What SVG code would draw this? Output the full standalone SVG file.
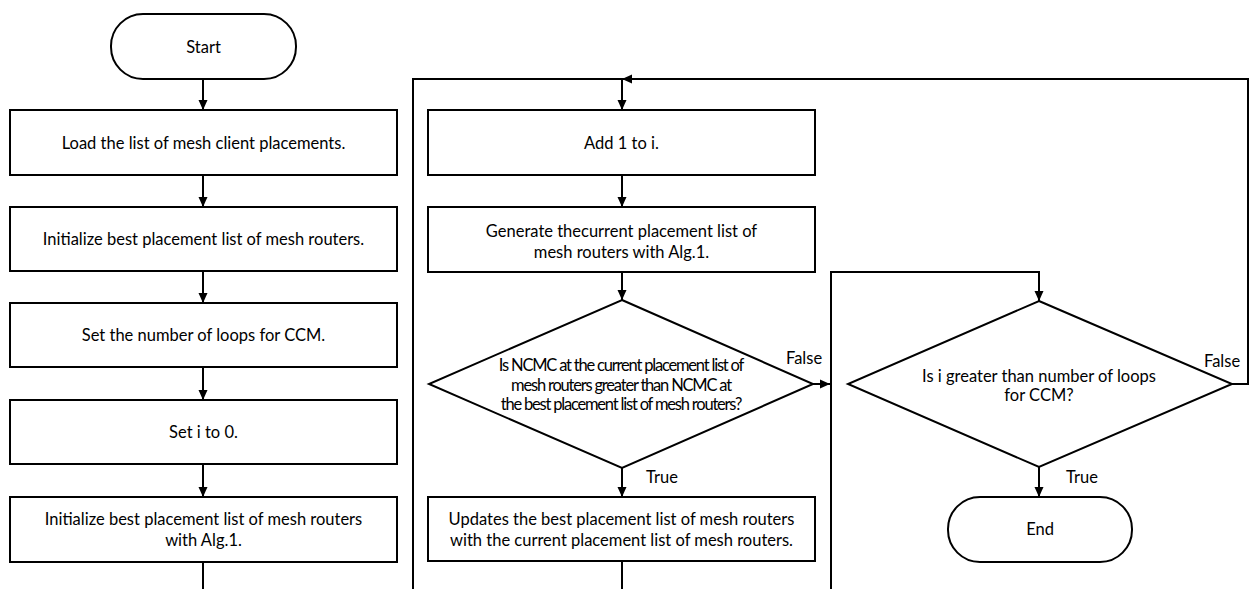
<svg xmlns="http://www.w3.org/2000/svg" width="1252" height="589" viewBox="0 0 1252 589">
<defs>
<marker id="ah" markerUnits="userSpaceOnUse" markerWidth="10" markerHeight="10" refX="10" refY="5" orient="auto">
<path d="M0,0.5 L10,5 L0,9.5 z" fill="#000"/>
</marker>
<style>
.n{fill:#fff;stroke:#000;stroke-width:2}
.t{font-family:Lato,"Noto Sans",sans-serif;font-size:16.5px;fill:#000;text-anchor:middle;dominant-baseline:central}
.c{fill:none;stroke:#000;stroke-width:2}
.a{marker-end:url(#ah)}
.l{font-family:Lato,"Noto Sans",sans-serif;font-size:16.5px;fill:#000;dominant-baseline:central}
</style>
</defs>
<rect width="1252" height="589" fill="#fff"/>
<g id="connectors">
<path class="c a" d="M203,79 V110"/>
<path class="c a" d="M203,175 V207"/>
<path class="c a" d="M203,271 V303"/>
<path class="c a" d="M203,367 V400"/>
<path class="c a" d="M203,464 V497"/>
<path class="c" d="M203,562 V589"/>
<path class="c" d="M413,589 V79 H622"/>
<path class="c a" d="M1232,384 H1248 V79 H622"/>
<path class="c a" d="M622,79 V110"/>
<path class="c a" d="M622,175 V207"/>
<path class="c a" d="M622,272 V300"/>
<path class="c a" d="M813,384 H830"/>
<path class="c a" d="M622,468 V497"/>
<path class="c" d="M622,561 V589"/>
<path class="c a" d="M831,589 V272 H1039 V301"/>
<path class="c a" d="M1039,467 V497"/>
<text class="l" x="786" y="358">False</text>
<text class="l" x="646" y="477">True</text>
<text class="l" x="1204" y="361">False</text>
<text class="l" x="1066" y="477">True</text>
</g>
<g id="start">
<rect class="n" x="111" y="14" width="185" height="65" rx="32"/>
<text class="t" x="203.5" y="47">Start</text>
</g>
<g id="load">
<rect class="n" x="10" y="110" width="387" height="65"/>
<text class="t" x="203.5" y="142.5">Load the list of mesh client placements.</text>
</g>
<g id="init1">
<rect class="n" x="10" y="207" width="387" height="64"/>
<text class="t" x="203.5" y="239">Initialize best placement list of mesh routers.</text>
</g>
<g id="setloops">
<rect class="n" x="10" y="303" width="387" height="64"/>
<text class="t" x="203.5" y="335">Set the number of loops for CCM.</text>
</g>
<g id="seti">
<rect class="n" x="10" y="400" width="387" height="64"/>
<text class="t" x="203.5" y="432">Set i to 0.</text>
</g>
<g id="init2">
<rect class="n" x="10" y="497" width="387" height="65"/>
<text class="t" x="203.5" y="519">Initialize best placement list of mesh routers</text>
<text class="t" x="203.5" y="540">with Alg.1.</text>
</g>
<g id="add">
<rect class="n" x="428" y="110" width="387" height="65"/>
<text class="t" x="621.5" y="142.5">Add 1 to i.</text>
</g>
<g id="generate">
<rect class="n" x="428" y="207" width="387" height="65"/>
<text class="t" x="621.5" y="231">Generate thecurrent placement list of</text>
<text class="t" x="621.5" y="252">mesh routers with Alg.1.</text>
</g>
<g id="decision1">
<polygon class="n" points="622,300 813,384 622,468 429,384"/>
<text class="t" x="621" y="365" letter-spacing="-1.2">Is NCMC at the current placement list of</text>
<text class="t" x="621" y="385" letter-spacing="-1.2">mesh routers greater than NCMC at</text>
<text class="t" x="621" y="404" letter-spacing="-1.2">the best placement list of mesh routers?</text>
</g>
<g id="update">
<rect class="n" x="428" y="497" width="387" height="64"/>
<text class="t" x="621.5" y="519">Updates the best placement list of mesh routers</text>
<text class="t" x="621.5" y="540">with the current placement list of mesh routers.</text>
</g>
<g id="decision2">
<polygon class="n" points="1039,301 1232,384 1039,467 848,384"/>
<text class="t" x="1039" y="376">Is i greater than number of loops</text>
<text class="t" x="1039" y="395">for CCM?</text>
</g>
<g id="end">
<rect class="n" x="948" y="497" width="184" height="65" rx="32"/>
<text class="t" x="1040" y="529">End</text>
</g>
</svg>
